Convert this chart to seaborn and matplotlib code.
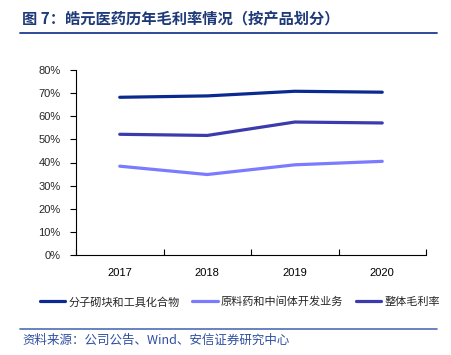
import matplotlib
matplotlib.use("Agg")
import matplotlib.pyplot as plt
import seaborn as sns
import pandas as pd
from matplotlib.ticker import FixedLocator, PercentFormatter
from matplotlib.lines import Line2D

years = ["2017", "2018", "2019", "2020"]
series_names = ["分子砌块和工具化合物", "原料药和中间体开发业务", "整体毛利率"]
building_blocks = [68.2, 68.8, 70.8, 70.4]
api_business = [38.4, 34.8, 39.0, 40.5]
overall = [52.2, 51.7, 57.5, 57.1]
colors = ["#0B2A8F", "#7B7BFF", "#3B3BAE"]

sns.set_theme(style="white")
plt.rcParams["font.family"] = ["Liberation Sans", "Noto Sans CJK SC", "DejaVu Sans"]

rows = []
for name, vals in zip(series_names, [building_blocks, api_business, overall]):
    for i, (y, v) in enumerate(zip(years, vals)):
        rows.append({"pos": i, "year": y, "series": name, "value": v})
df = pd.DataFrame(rows)

fig = plt.figure(figsize=(4.52, 3.55), dpi=100)
ax = fig.add_axes([76/452, 1-255/355, (426-76)/452, (255-70)/355])

sns.lineplot(data=df, x="pos", y="value", hue="series", hue_order=series_names,
             palette=colors, linewidth=2.3, ax=ax, legend=False)

ax.set_xlim(-0.5, 3.5)
ax.set_ylim(0, 80)
ax.set_xlabel("")
ax.set_ylabel("")
ax.xaxis.set_major_locator(FixedLocator(range(len(years))))
ax.set_xticklabels(years)
ax.xaxis.set_minor_locator(FixedLocator([i + 0.5 for i in range(-1, len(years))]))
ax.tick_params(axis="x", which="major", length=0, labelsize=8, pad=9, colors="#000000")
ax.tick_params(axis="x", which="minor", length=4, direction="in", width=0.8, color="#000000", bottom=True)
ax.set_yticks(range(0, 81, 10))
ax.yaxis.set_major_formatter(PercentFormatter(decimals=0))
ax.tick_params(axis="y", length=4, direction="out", width=0.8, labelsize=8, pad=7, color="#000000", left=True)
for s in ["top", "right"]:
    ax.spines[s].set_visible(False)
for s in ["left", "bottom"]:
    ax.spines[s].set_color("#000000")
    ax.spines[s].set_linewidth(0.8)

handles = [Line2D([0], [0], color=c, lw=2.3) for c in colors]
fig.legend(handles, series_names, loc="center", bbox_to_anchor=(240/452, 1-302/355),
           ncol=3, frameon=False, handlelength=2.3, handletextpad=0.3,
           columnspacing=1.1, prop={"family": ["Noto Sans CJK SC"], "size": 8})

fig.text(22/452, 1-19/355, "图 7：皓元医药历年毛利率情况（按产品划分）",
         fontsize=11, fontweight="bold", color="#1F3A78", va="center", ha="left",
         family=["Noto Sans CJK SC", "DejaVu Sans"])
fig.add_artist(Line2D([20/452, 437/452], [1-33/355, 1-33/355], color="#1F3A93", lw=1.3,
                      transform=fig.transFigure))
fig.add_artist(Line2D([20/452, 437/452], [1-329/355, 1-329/355], color="#4F6DB5", lw=1.2,
                      transform=fig.transFigure))
fig.text(22/452, 1-340/355, "资料来源：公司公告、Wind、安信证券研究中心", fontsize=9,
         style="italic", color="#2E4FA0", va="center", ha="left",
         family=["Noto Sans CJK SC", "DejaVu Sans"])

fig.savefig("out.png", dpi=100)
